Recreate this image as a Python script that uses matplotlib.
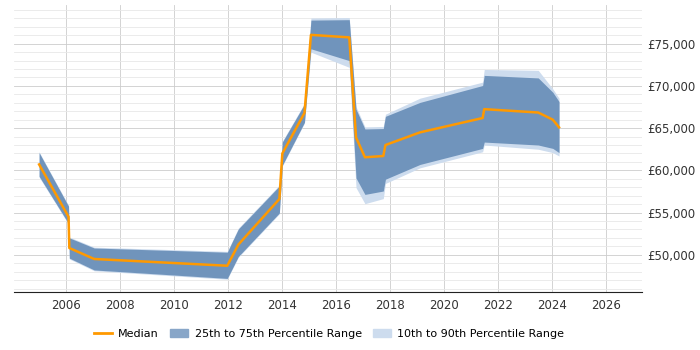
import numpy as np
import matplotlib.pyplot as plt
from matplotlib.ticker import FuncFormatter, MultipleLocator
from matplotlib.patches import Patch
from matplotlib.lines import Line2D

years = [2005.0, 2006.09, 2006.12, 2007.04, 2011.97, 2012.38, 2013.9, 2014.01,
         2014.83, 2015.07, 2016.49, 2016.74, 2017.07, 2017.75, 2017.83, 2019.11,
         2021.43, 2021.49, 2023.49, 2024.03, 2024.26]
median = [60700, 54500, 50800, 49500, 48700, 51200, 56600, 62000,
          66800, 76050, 75750, 63900, 61550, 61700, 63000, 64500,
          66200, 67250, 66850, 66000, 65100]
p25 = [59300, 53700, 49600, 48200, 47200, 49800, 54950, 60600,
       65700, 74400, 73000, 59100, 57150, 57550, 58950, 60700,
       62600, 63350, 63000, 62600, 62100]
p75 = [62100, 55750, 52000, 50800, 50300, 53050, 58150, 63350,
       67850, 77800, 77850, 67250, 64900, 64950, 66400, 68050,
       70050, 71250, 70950, 69250, 68150]
p10 = [59200, 53600, 49500, 48100, 47100, 49700, 54850, 60500,
       65600, 74000, 72200, 57950, 56050, 56650, 58450, 60300,
       62200, 63000, 62500, 62100, 61700]
p90 = [62200, 55850, 52100, 50900, 50400, 53150, 58250, 63450,
       67950, 78050, 78100, 67550, 65150, 65200, 66650, 68550,
       70450, 71950, 71850, 69650, 68550]

fig = plt.figure(figsize=(7, 3.5), dpi=100)
ax = fig.add_axes([0.02, 0.166, 0.897, 0.82])

ax.fill_between(years, p10, p90, color='#cddcee', linewidth=0)
ax.fill_between(years, p25, p75, color='#7094bc', linewidth=0)
ax.plot(years, median, color='#ff9900', linewidth=1.8)

ax.set_xlim(2004.07, 2027.33)
ax.set_ylim(45600, 79600)
ax.xaxis.set_major_locator(MultipleLocator(2))
ax.yaxis.set_major_locator(MultipleLocator(5000))
ax.yaxis.set_minor_locator(MultipleLocator(1000))
ax.yaxis.tick_right()
ax.yaxis.set_major_formatter(FuncFormatter(lambda v, p: f'£{v:,.0f}'))

ax.grid(True, which='major', color='#cccccc', linewidth=0.6)
ax.grid(True, which='minor', axis='y', color='#e8e8e8', linewidth=0.6)
ax.set_axisbelow(True)
for s in ['top', 'right', 'left']:
    ax.spines[s].set_visible(False)
ax.spines['bottom'].set_color('#222222')
ax.tick_params(axis='both', which='both', length=0, labelsize=8.5, colors='#333333')
ax.tick_params(axis='x', pad=5)
ax.tick_params(axis='y', pad=4)

handles = [Line2D([], [], color='#ff9900', linewidth=2),
           Patch(color='#88a6c8'), Patch(color='#cddcee')]
labels = ['Median', '25th to 75th Percentile Range', '10th to 90th Percentile Range']
fig.legend(handles, labels, loc='center', bbox_to_anchor=(0.47, 0.045), ncol=3,
           frameon=False, fontsize=8, handlelength=1.6, columnspacing=1.0,
           handletextpad=0.6)

fig.savefig('out.png', dpi=100)
